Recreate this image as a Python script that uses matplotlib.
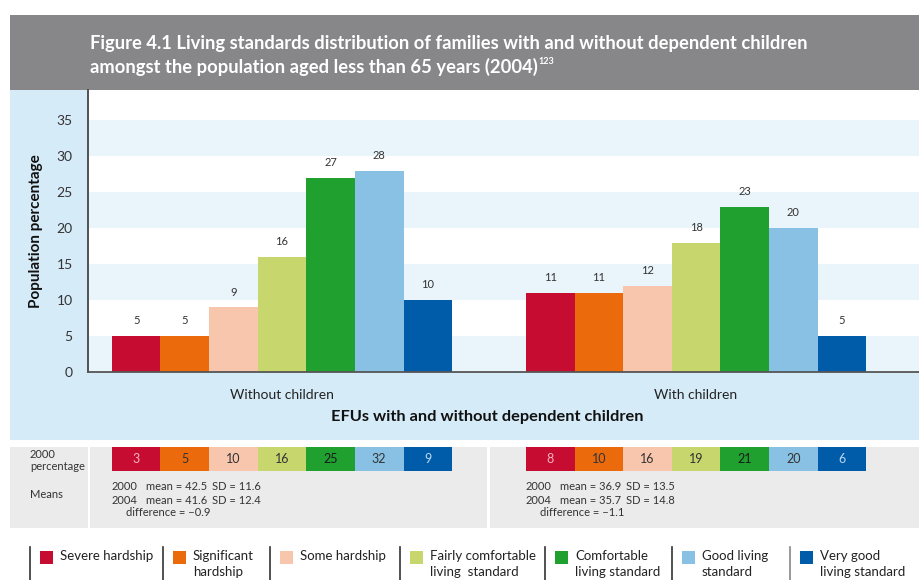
import matplotlib
matplotlib.use("Agg")
import matplotlib.pyplot as plt
from matplotlib.patches import Rectangle
from matplotlib.lines import Line2D
import numpy as np

plt.rcParams['font.family'] = ['Lato', 'DejaVu Sans']

# ---- data ----
groups = ["Without children", "With children"]
levels = ["Severe hardship", "Significant\nhardship", "Some hardship",
          "Fairly comfortable\nliving  standard", "Comfortable\nliving standard",
          "Good living\nstandard", "Very good\nliving standard"]
pct_2004_without = [5, 5, 9, 16, 27, 28, 10]
pct_2004_with = [11, 11, 12, 18, 23, 20, 5]
pct_2000_without = [3, 5, 10, 16, 25, 32, 9]
pct_2000_with = [8, 10, 16, 19, 21, 20, 6]
means_without = [("2000", "mean = 42.5", "SD = 11.6"), ("2004", "mean = 41.6", "SD = 12.4")]
means_with = [("2000", "mean = 36.9", "SD = 13.5"), ("2004", "mean = 35.7", "SD = 14.8")]
diff_without = "difference = \u22120.9"
diff_with = "difference = \u22121.1"
yticks = [0, 5, 10, 15, 20, 25, 30, 35]

colors = ["#c60c30", "#eb6a0c", "#f7c6ad", "#c8d66e", "#20a02f", "#88c1e4", "#005ca8"]
cell_text_colors = ["#f6b3c0", "#333333", "#333333", "#333333", "#1a1a1a", "#333333", "#b9d8f2"]

W, H = 920, 580
fig = plt.figure(figsize=(W / 100, H / 100), dpi=100)


def fx(x):
    return x / W


def fy(y):
    return 1 - y / H


def rect(x0, y0, x1, y1, color, z=0):
    fig.add_artist(Rectangle((fx(x0), fy(y1)), fx(x1 - x0), (y1 - y0) / H,
                             transform=fig.transFigure, facecolor=color,
                             edgecolor='none', zorder=z))


# background panels
rect(10, 15, 920, 90, "#87878a")
rect(10, 90, 920, 440, "#d6ebf8")
rect(10, 447, 920, 528, "#ebebeb")
rect(88, 447, 90, 528, "white", z=1)
rect(487, 447, 490, 528, "white", z=1)

# title
fig.text(fx(90), fy(43), "Figure 4.1 Living standards distribution of families with and without dependent children",
         color="white", fontsize=13.2, fontweight="bold", va="center", ha="left")
t2 = fig.text(fx(90), fy(67), "amongst the population aged less than 65 years (2004)",
              color="white", fontsize=13.2, fontweight="bold", va="center", ha="left")
fig.canvas.draw()
bb = t2.get_window_extent()
fig.text(bb.x1 / W + 0.001, fy(61), "123", color="white", fontsize=6.5,
         fontweight="bold", va="center", ha="left")

# ---- main bar chart ----
ax = fig.add_axes([fx(88), fy(372), fx(920 - 88), (372 - 90) / H])
ax.set_facecolor("white")
for lo in (0, 10, 20, 30):
    ax.axhspan(lo, lo + 5, color="#e9f4fb", zorder=0, lw=0)

x = np.arange(len(groups))
width = 0.1174
values = [pct_2004_without, pct_2004_with]
for i in range(len(levels)):
    offs = (i - 3) * width
    heights = [values[g][i] for g in range(len(groups))]
    bars = ax.bar(x + offs, heights, width=width, color=colors[i], zorder=2, lw=0)
    ax.bar_label(bars, padding=7, fontsize=8, color="#333333")

ax.set_xlim(-0.4686, 1.541)
ax.set_ylim(0, 39.2)
ax.set_yticks(yticks)
ax.tick_params(axis='y', length=0, pad=11, labelsize=10, labelcolor="#333333")
ax.set_xticks(x, groups)
ax.tick_params(axis='x', length=0, pad=12, labelsize=10, labelcolor="#222222")
for s in ("top", "right"):
    ax.spines[s].set_visible(False)
ax.spines["left"].set_color("#444444")
ax.spines["left"].set_linewidth(1.3)
ax.spines["bottom"].set_color("#555555")
ax.spines["bottom"].set_linewidth(1.3)

fig.text(fx(36), fy(231), "Population percentage", rotation=90, fontsize=11,
         fontweight="bold", va="center", ha="center", color="#111111")
fig.text(fx(487), fy(417), "EFUs with and without dependent children", fontsize=11.8,
         fontweight="bold", va="center", ha="center", color="#111111")

# ---- 2000 percentage row ----
tax = fig.add_axes([fx(88), fy(471), fx(920 - 88), (471 - 447) / H])
tax.set_xlim(ax.get_xlim())
tax.set_ylim(0, 1)
tax.axis("off")
values_2000 = [pct_2000_without, pct_2000_with]
for i in range(len(levels)):
    offs = (i - 3) * width
    cells = tax.bar(x + offs, [1, 1], width=width, color=colors[i], lw=0)
    texts = tax.bar_label(cells, labels=[str(values_2000[g][i]) for g in range(len(groups))],
                          label_type="center", fontsize=9)
    for t in texts:
        t.set_color(cell_text_colors[i])

fig.text(fx(30), fy(454), "2000", fontsize=8, color="#333333", va="center")
fig.text(fx(30), fy(467), "percentage", fontsize=8, color="#333333", va="center")
fig.text(fx(30), fy(494), "Means", fontsize=8, color="#333333", va="center")

for x0, rows, diff in ((112, means_without, diff_without), (526, means_with, diff_with)):
    for r, (yr, mean, sd) in enumerate(rows):
        yy = fy(487 + 13 * r)
        fig.text(fx(x0), yy, yr, fontsize=8, color="#333333", va="center")
        fig.text(fx(x0 + 34), yy, mean, fontsize=8, color="#333333", va="center")
        fig.text(fx(x0 + 100), yy, sd, fontsize=8, color="#333333", va="center")
    fig.text(fx(x0 + 14), fy(513), diff, fontsize=8, color="#333333", va="center")

# ---- legend ----
div_x = [30, 163, 270, 400, 545, 672, 790]
for i, (dx, lab) in enumerate(zip(div_x, levels)):
    fig.add_artist(Line2D([fx(dx), fx(dx)], [fy(547), fy(580)], transform=fig.transFigure,
                          color="#888888" if i == 6 else "#333333", lw=1.2))
    rect(dx + 10, 551, dx + 23, 564, colors[i], z=2)
    fig.text(fx(dx + 30), fy(550), lab, fontsize=9.5, color="#222222", va="top", ha="left",
             linespacing=1.45)

fig.savefig("out.png", dpi=100)
